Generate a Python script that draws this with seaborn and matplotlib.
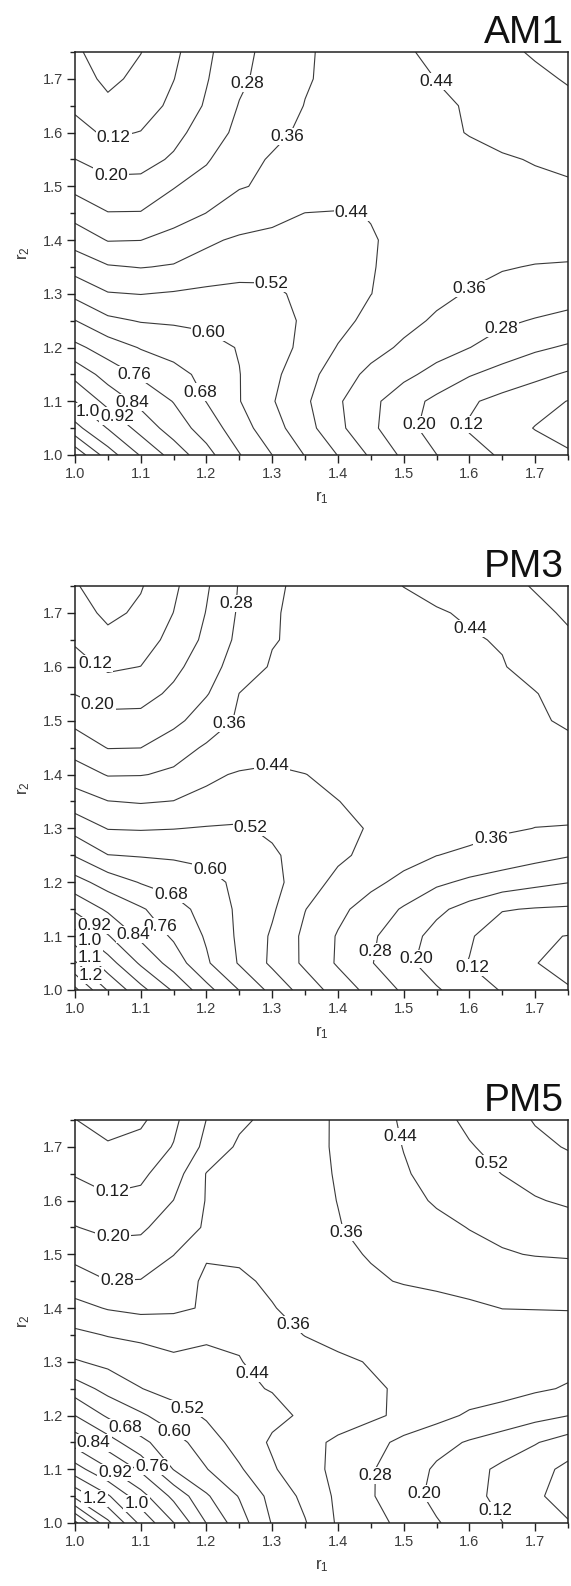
import numpy as np
import matplotlib
matplotlib.use("Agg")
import matplotlib.pyplot as plt
import seaborn as sns
from matplotlib.ticker import MultipleLocator

# ---------------- data ----------------
r1_values = [1.00, 1.05, 1.10, 1.15, 1.20, 1.25, 1.30, 1.35, 1.40, 1.45, 1.50, 1.55, 1.60, 1.65, 1.70, 1.75]
r2_values = [1.00, 1.05, 1.10, 1.15, 1.20, 1.25, 1.30, 1.35, 1.40, 1.45, 1.50, 1.55, 1.60, 1.65, 1.70, 1.75]

# rows: r2 = 1.00 ... 1.75 ; columns: r1 = 1.00 ... 1.75
am1_z = [
    [1.30, 1.118, 0.994, 0.888, 0.787, 0.684, 0.600, 0.517, 0.438, 0.349, 0.264, 0.201, 0.150, 0.110, 0.078, 0.050],
    [1.105, 0.996, 0.891, 0.802, 0.724, 0.636, 0.552, 0.472, 0.380, 0.296, 0.227, 0.166, 0.113, 0.076, 0.037, 0.010],
    [1.00, 0.893, 0.817, 0.757, 0.678, 0.603, 0.526, 0.454, 0.370, 0.300, 0.235, 0.181, 0.130, 0.097, 0.068, 0.038],
    [0.895, 0.807, 0.748, 0.706, 0.658, 0.602, 0.539, 0.471, 0.399, 0.340, 0.299, 0.254, 0.206, 0.170, 0.140, 0.110],
    [0.780, 0.722, 0.675, 0.649, 0.624, 0.596, 0.566, 0.493, 0.436, 0.389, 0.347, 0.313, 0.281, 0.247, 0.213, 0.190],
    [0.682, 0.617, 0.595, 0.590, 0.585, 0.575, 0.556, 0.507, 0.463, 0.420, 0.384, 0.349, 0.321, 0.293, 0.275, 0.260],
    [0.580, 0.525, 0.518, 0.527, 0.538, 0.542, 0.530, 0.507, 0.474, 0.441, 0.410, 0.379, 0.354, 0.340, 0.325, 0.310],
    [0.488, 0.447, 0.437, 0.446, 0.470, 0.490, 0.505, 0.500, 0.483, 0.443, 0.424, 0.404, 0.384, 0.364, 0.357, 0.355],
    [0.410, 0.356, 0.359, 0.392, 0.427, 0.452, 0.462, 0.466, 0.460, 0.443, 0.430, 0.415, 0.400, 0.390, 0.385, 0.381],
    [0.330, 0.283, 0.284, 0.320, 0.361, 0.390, 0.415, 0.441, 0.445, 0.438, 0.425, 0.415, 0.410, 0.405, 0.405, 0.407],
    [0.258, 0.225, 0.226, 0.276, 0.315, 0.356, 0.370, 0.380, 0.392, 0.402, 0.410, 0.418, 0.423, 0.427, 0.430, 0.432],
    [0.201, 0.165, 0.170, 0.211, 0.271, 0.342, 0.365, 0.380, 0.390, 0.400, 0.410, 0.420, 0.428, 0.435, 0.443, 0.455],
    [0.150, 0.105, 0.123, 0.175, 0.238, 0.300, 0.347, 0.370, 0.385, 0.400, 0.415, 0.430, 0.442, 0.455, 0.467, 0.479],
    [0.105, 0.060, 0.075, 0.142, 0.209, 0.284, 0.324, 0.362, 0.380, 0.397, 0.415, 0.432, 0.444, 0.462, 0.482, 0.502],
    [0.080, 0.020, 0.062, 0.118, 0.195, 0.265, 0.313, 0.354, 0.378, 0.399, 0.420, 0.441, 0.462, 0.483, 0.505, 0.526],
    [0.050, 0.010, 0.038, 0.102, 0.185, 0.255, 0.308, 0.351, 0.380, 0.406, 0.431, 0.456, 0.480, 0.504, 0.528, 0.550],
]

pm3_z = [
    [1.34, 1.154, 1.025, 0.910, 0.787, 0.678, 0.577, 0.485, 0.406, 0.335, 0.268, 0.208, 0.158, 0.115, 0.080, 0.045],
    [1.17, 1.034, 0.908, 0.805, 0.691, 0.593, 0.505, 0.425, 0.351, 0.285, 0.222, 0.160, 0.117, 0.077, 0.042, 0.020],
    [1.033, 0.926, 0.823, 0.748, 0.671, 0.586, 0.510, 0.423, 0.354, 0.292, 0.235, 0.174, 0.129, 0.071, 0.050, 0.038],
    [0.905, 0.827, 0.769, 0.712, 0.650, 0.586, 0.530, 0.442, 0.380, 0.325, 0.272, 0.217, 0.172, 0.125, 0.115, 0.110],
    [0.790, 0.725, 0.675, 0.648, 0.620, 0.586, 0.545, 0.476, 0.420, 0.380, 0.338, 0.294, 0.265, 0.243, 0.220, 0.202],
    [0.675, 0.602, 0.595, 0.590, 0.585, 0.575, 0.530, 0.492, 0.454, 0.420, 0.390, 0.361, 0.345, 0.325, 0.305, 0.285],
    [0.570, 0.517, 0.514, 0.518, 0.525, 0.528, 0.508, 0.477, 0.457, 0.435, 0.419, 0.403, 0.387, 0.370, 0.359, 0.357],
    [0.480, 0.442, 0.434, 0.442, 0.460, 0.480, 0.490, 0.470, 0.441, 0.425, 0.410, 0.400, 0.393, 0.387, 0.384, 0.381],
    [0.400, 0.355, 0.357, 0.370, 0.425, 0.448, 0.455, 0.441, 0.425, 0.410, 0.400, 0.395, 0.395, 0.397, 0.400, 0.403],
    [0.326, 0.277, 0.279, 0.335, 0.367, 0.390, 0.410, 0.410, 0.405, 0.400, 0.400, 0.400, 0.405, 0.410, 0.418, 0.426],
    [0.260, 0.225, 0.225, 0.255, 0.328, 0.368, 0.380, 0.385, 0.390, 0.395, 0.400, 0.405, 0.410, 0.420, 0.432, 0.448],
    [0.198, 0.165, 0.170, 0.216, 0.274, 0.361, 0.375, 0.383, 0.390, 0.395, 0.400, 0.405, 0.413, 0.422, 0.437, 0.468],
    [0.150, 0.108, 0.121, 0.180, 0.244, 0.321, 0.367, 0.378, 0.385, 0.393, 0.400, 0.410, 0.420, 0.436, 0.465, 0.490],
    [0.110, 0.065, 0.080, 0.147, 0.217, 0.299, 0.356, 0.374, 0.386, 0.398, 0.410, 0.422, 0.434, 0.445, 0.478, 0.510],
    [0.080, 0.020, 0.055, 0.121, 0.203, 0.290, 0.355, 0.374, 0.389, 0.404, 0.419, 0.434, 0.448, 0.479, 0.504, 0.529],
    [0.045, 0.010, 0.034, 0.105, 0.191, 0.285, 0.348, 0.377, 0.398, 0.419, 0.441, 0.460, 0.480, 0.500, 0.525, 0.545],
]

pm5_z = [
    [1.50, 1.26, 1.06, 0.922, 0.758, 0.636, 0.515, 0.445, 0.350, 0.307, 0.260, 0.206, 0.163, 0.121, 0.080, 0.045],
    [1.22, 1.09, 0.950, 0.820, 0.690, 0.595, 0.495, 0.420, 0.345, 0.287, 0.232, 0.180, 0.142, 0.100, 0.052, 0.010],
    [1.034, 0.928, 0.826, 0.677, 0.603, 0.530, 0.449, 0.390, 0.340, 0.286, 0.242, 0.189, 0.148, 0.103, 0.070, 0.020],
    [0.890, 0.797, 0.700, 0.630, 0.560, 0.487, 0.430, 0.390, 0.343, 0.310, 0.258, 0.225, 0.193, 0.165, 0.125, 0.085],
    [0.760, 0.668, 0.612, 0.556, 0.510, 0.480, 0.457, 0.430, 0.405, 0.375, 0.343, 0.305, 0.269, 0.248, 0.225, 0.201],
    [0.640, 0.574, 0.522, 0.490, 0.470, 0.450, 0.437, 0.415, 0.393, 0.370, 0.350, 0.335, 0.320, 0.310, 0.290, 0.274],
    [0.527, 0.500, 0.478, 0.452, 0.447, 0.443, 0.415, 0.395, 0.375, 0.355, 0.340, 0.325, 0.315, 0.307, 0.300, 0.301],
    [0.458, 0.436, 0.424, 0.418, 0.436, 0.430, 0.390, 0.358, 0.335, 0.325, 0.320, 0.320, 0.324, 0.328, 0.330, 0.332],
    [0.384, 0.355, 0.340, 0.345, 0.368, 0.400, 0.363, 0.340, 0.325, 0.320, 0.325, 0.335, 0.348, 0.361, 0.362, 0.363],
    [0.317, 0.281, 0.283, 0.330, 0.370, 0.370, 0.350, 0.335, 0.335, 0.350, 0.365, 0.375, 0.385, 0.395, 0.400, 0.408],
    [0.257, 0.235, 0.240, 0.278, 0.355, 0.350, 0.340, 0.335, 0.345, 0.365, 0.390, 0.400, 0.420, 0.435, 0.443, 0.446],
    [0.203, 0.180, 0.185, 0.247, 0.287, 0.305, 0.322, 0.340, 0.357, 0.378, 0.400, 0.423, 0.442, 0.455, 0.473, 0.490],
    [0.157, 0.130, 0.140, 0.201, 0.284, 0.303, 0.322, 0.341, 0.361, 0.390, 0.420, 0.447, 0.470, 0.492, 0.515, 0.530],
    [0.115, 0.095, 0.105, 0.163, 0.283, 0.303, 0.322, 0.342, 0.364, 0.398, 0.433, 0.464, 0.495, 0.521, 0.544, 0.568],
    [0.075, 0.050, 0.070, 0.124, 0.221, 0.294, 0.317, 0.341, 0.367, 0.402, 0.442, 0.477, 0.514, 0.546, 0.582, 0.605],
    [0.042, 0.005, 0.025, 0.103, 0.201, 0.264, 0.303, 0.335, 0.369, 0.408, 0.449, 0.493, 0.537, 0.565, 0.605, 0.635],
]

contour_levels = [0.04, 0.12, 0.20, 0.28, 0.36, 0.44, 0.52, 0.60, 0.68, 0.76,
                  0.84, 0.92, 1.00, 1.08, 1.16, 1.24, 1.32, 1.40, 1.48]

panel_titles = ["AM1", "PM3", "PM5"]
x_tick_values = [1.0, 1.1, 1.2, 1.3, 1.4, 1.5, 1.6, 1.7]
y_tick_values = [1.0, 1.1, 1.2, 1.3, 1.4, 1.5, 1.6, 1.7]

# contour label anchors (level, r1, r2)
am1_labels = [(0.28, 1.260, 1.692), (0.44, 1.548, 1.692), (0.36, 1.315, 1.601),
              (0.12, 1.061, 1.579), (0.20, 1.055, 1.509), (0.44, 1.421, 1.456),
              (0.52, 1.299, 1.324), (0.36, 1.600, 1.311), (0.60, 1.210, 1.242),
              (0.28, 1.647, 1.239), (0.76, 1.089, 1.148), (0.68, 1.194, 1.119),
              (0.84, 1.086, 1.098), (0.92, 1.061, 1.068), (1.00, 1.019, 1.080),
              (0.20, 1.515, 1.060), (0.12, 1.587, 1.060)]
pm3_labels = [(0.28, 1.243, 1.717), (0.44, 1.600, 1.670), (0.12, 1.025, 1.598),
              (0.20, 1.030, 1.517), (0.36, 1.227, 1.507), (0.44, 1.299, 1.429),
              (0.52, 1.268, 1.304), (0.36, 1.631, 1.288), (0.60, 1.210, 1.229),
              (0.68, 1.147, 1.178), (0.92, 1.028, 1.119), (0.76, 1.130, 1.119),
              (0.84, 1.089, 1.103), (1.00, 1.022, 1.091), (1.08, 1.022, 1.059),
              (1.16, 1.025, 1.028), (0.28, 1.451, 1.072), (0.20, 1.515, 1.059),
              (0.12, 1.600, 1.034)]
pm5_labels = [(0.44, 1.490, 1.719), (0.52, 1.631, 1.666), (0.12, 1.058, 1.609),
              (0.36, 1.412, 1.541), (0.20, 1.058, 1.525), (0.28, 1.064, 1.450),
              (0.36, 1.329, 1.366), (0.44, 1.268, 1.276), (0.52, 1.169, 1.210),
              (0.68, 1.077, 1.179), (0.60, 1.149, 1.167), (0.84, 1.028, 1.148),
              (0.76, 1.119, 1.107), (0.92, 1.061, 1.095), (0.28, 1.451, 1.089),
              (0.20, 1.523, 1.057), (1.16, 1.030, 1.045), (1.00, 1.094, 1.036),
              (0.12, 1.631, 1.017)]

# ---------------- styling ----------------
sns.set_theme(style="ticks")
plt.rcParams["font.family"] = ["Liberation Sans", "DejaVu Sans"]
plt.rcParams["mathtext.fontset"] = "custom"
plt.rcParams["mathtext.rm"] = "Liberation Sans"
plt.rcParams["mathtext.it"] = "Liberation Sans"

LINE = "#3a3a3a"
TICKC = "#3c3c3c"

fig = plt.figure(figsize=(5.71, 15.86), dpi=100)

W, H = 571.0, 1586.0
ax_left, ax_right = 75, 568
panel_tops = [52, 586, 1120]
panel_bottoms = [455, 990, 1523]


def fmt(v):
    return f"{v:.1f}" if v >= 0.995 else f"{v:.2f}"


def nearest_on_path(path, px, py, sx, sy):
    """Closest point of a contour path to (px, py), measured in pixel-like units."""
    best, best_d = None, np.inf
    P = np.array([px * sx, py * sy])
    for poly in path.to_polygons(closed_only=False):
        if len(poly) < 2:
            continue
        A = poly[:-1] * [sx, sy]
        B = poly[1:] * [sx, sy]
        AB = B - A
        L2 = (AB ** 2).sum(axis=1)
        L2[L2 == 0] = 1e-12
        t = np.clip(((P - A) * AB).sum(axis=1) / L2, 0, 1)
        Q = A + AB * t[:, None]
        d = ((Q - P) ** 2).sum(axis=1)
        k = int(np.argmin(d))
        if d[k] < best_d:
            best_d = d[k]
            best = (Q[k, 0] / sx, Q[k, 1] / sy)
    return best


panels = [(am1_z, am1_labels), (pm3_z, pm3_labels), (pm5_z, pm5_labels)]

for i, (zdata, labels) in enumerate(panels):
    top, bot = panel_tops[i], panel_bottoms[i]
    ax = fig.add_axes([ax_left / W, 1 - bot / H, (ax_right - ax_left) / W, (bot - top) / H])
    X, Y = np.meshgrid(np.array(r1_values), np.array(r2_values))
    Z = np.array(zdata)
    cs = ax.contour(X, Y, Z, levels=contour_levels, colors=LINE, linewidths=0.8)
    ax.set_xlim(1.0, 1.75)
    ax.set_ylim(1.0, 1.75)
    sx = (ax_right - ax_left) / 0.75
    sy = (bot - top) / 0.75
    paths = cs.get_paths()
    rounded = [round(float(v), 2) for v in cs.levels]
    snapped = []
    for lvl, lx, ly in labels:
        if lvl not in rounded:
            continue
        pt = nearest_on_path(paths[rounded.index(lvl)], lx, ly, sx, sy)
        if pt is not None:
            snapped.append(pt)
    if snapped:
        texts = ax.clabel(cs, manual=snapped, inline=False,
                          fmt=fmt, fontsize=12.5, colors="#1e1e1e")
        for t in texts:
            t.set_rotation(0)
            t.set_clip_on(False)
            t.set_bbox(dict(boxstyle="square,pad=0.06", fc="white", ec="none"))
    ax.set_xticks(x_tick_values)
    ax.set_yticks(y_tick_values)
    ax.set_xticklabels([f"{v:.1f}" for v in x_tick_values])
    ax.set_yticklabels([f"{v:.1f}" for v in y_tick_values])
    ax.xaxis.set_minor_locator(MultipleLocator(0.05))
    ax.yaxis.set_minor_locator(MultipleLocator(0.05))
    ax.tick_params(which="major", direction="out", length=5.8, width=1.0,
                   color="#222222", labelsize=10.5, labelcolor=TICKC, pad=2.5)
    ax.tick_params(which="minor", direction="out", length=3.4, width=1.0, color="#222222")
    ax.tick_params(top=False, right=False)
    for sp in ax.spines.values():
        sp.set_linewidth(1.1)
        sp.set_color("#222222")
        sp.set_visible(True)
        sp.set_zorder(5)
    ax.set_xlabel(r"$\mathregular{r_1}$", fontsize=12, color="#333333", labelpad=6)
    ax.set_ylabel(r"$\mathregular{r_2}$", fontsize=12, color="#333333", labelpad=8)
    ax.text(1 - 4 / 493, 1 + 9 / (bot - top), panel_titles[i], transform=ax.transAxes,
            ha="right", va="baseline", fontsize=28, color="#111111")
    ax.set_facecolor("white")

fig.savefig("out.png", dpi=100, facecolor="white")
